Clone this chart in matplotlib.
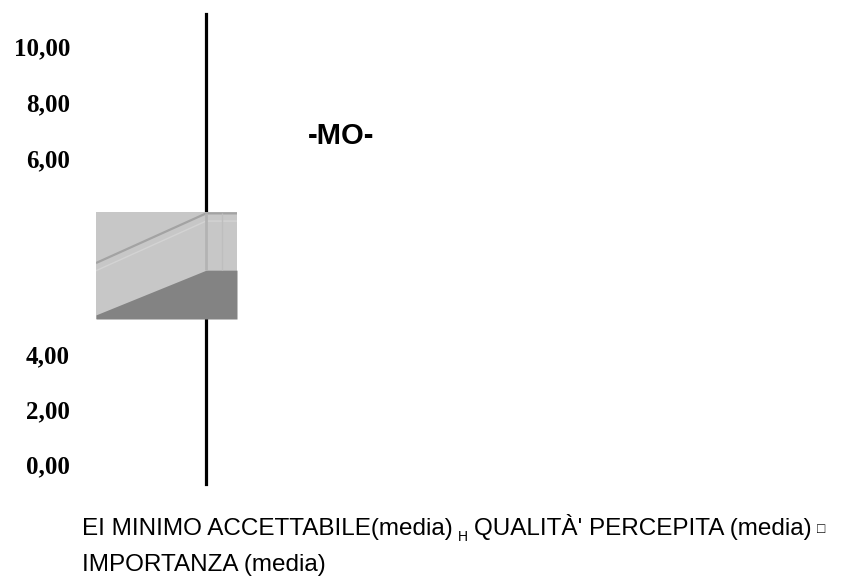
import matplotlib
matplotlib.use("Agg")
import matplotlib.pyplot as plt

# --- data -------------------------------------------------------------
tick_top = [10, 8, 6]
tick_bottom = [4, 2, 0]
tick_fmt = lambda v: f"{v:.2f}".replace(".", ",")

# fragment of the 3-D area plot (x positions of the points and heights)
frag_x = [0.0, 1.0, 1.28]
area_scura = [0.15, 1.78, 1.78]     # dark front area
bordo = [2.04, 3.85, 3.85]          # upper edge line
frag_top = 3.9

title = "-MO-"
legend_parts = ["EI MINIMO ACCETTABILE(media)", "H", "QUALITÀ' PERCEPITA (media)", "□"]
legend_line2 = "IMPORTANZA (media)"

# --- figure ------------------------------------------------------------
W, H = 859, 588
fig = plt.figure(figsize=(W / 100, H / 100), dpi=100)


def box(x0, y0, x1, y1):
    return [x0 / W, 1 - y1 / H, (x1 - x0) / W, (y1 - y0) / H]


serif = dict(family="Liberation Serif", weight="bold", size=18)


def value_axis(rect, lim, ticks):
    ax = fig.add_axes(rect)
    ax.set_facecolor("none")
    ax.set_ylim(*lim)
    ax.set_xlim(0, 1)
    for s in ("top", "right", "bottom"):
        ax.spines[s].set_visible(False)
    ax.spines["left"].set_linewidth(2.3)
    ax.spines["left"].set_color("black")
    ax.set_xticks([])
    ax.set_yticks(ticks)
    ax.set_yticklabels([tick_fmt(v) for v in ticks], fontdict=serif)
    ax.tick_params(axis="y", length=0, pad=98)
    return ax


ax_top = value_axis(box(206, 14, 700, 212), (4.07, 11.14), tick_top)
ax_bot = value_axis(box(206, 319, 700, 484), (-0.73, 5.27), tick_bottom)

# area fragment
axp = fig.add_axes(box(96, 212, 237, 319))
axp.set_xlim(frag_x[0], frag_x[-1])
axp.set_ylim(0, frag_top)
axp.axis("off")
axp.fill_between(frag_x, 0, frag_top, color="#c7c7c7", lw=0)
axp.fill_between(frag_x, 0, area_scura, color="#838383", lw=0)
axp.plot(frag_x, bordo, color="#a3a3a3", lw=1.6, solid_capstyle="butt")
axp.plot(frag_x, [b - 0.28 for b in bordo], color="#d3d3d3", lw=1.0)
axp.vlines([frag_x[1]], area_scura[1], bordo[1], color="#b3b3b3", lw=2.0)
axp.vlines([(frag_x[1] + frag_x[2]) / 2], area_scura[1], bordo[1], color="#bebebe", lw=1.0)

# title
fig.text(341 / W, 1 - 136 / H, title, ha="center", va="center",
         family="Liberation Sans", weight="bold", size=21)

# legend text, with the small lowered marker letters between the entries
sans = ["Liberation Sans", "DejaVu Sans"]
fs = 17.5
x_leg = 82
t1 = fig.text(x_leg / W, 1 - 529 / H, legend_parts[0], ha="left", va="center",
              family=sans, size=fs)
a2 = fig.add_artist(plt.Annotation(legend_parts[1], xy=(1, 0), xycoords=t1,
                                   xytext=(4, -3), textcoords="offset points",
                                   family=sans, size=10, ha="left", va="bottom"))
a3 = fig.add_artist(plt.Annotation(legend_parts[2], xy=(1, 0), xycoords=a2,
                                   xytext=(4, 3), textcoords="offset points",
                                   family=sans, size=fs, ha="left", va="bottom"))
a4 = fig.add_artist(plt.Annotation(legend_parts[3], xy=(1, 0), xycoords=a3,
                                   xytext=(4, 3), textcoords="offset points",
                                   family=sans, size=10, ha="left", va="bottom"))
fig.text(x_leg / W, 1 - 565 / H, legend_line2, ha="left", va="center",
         family=sans, size=fs)

fig.savefig("out.png", dpi=100)
